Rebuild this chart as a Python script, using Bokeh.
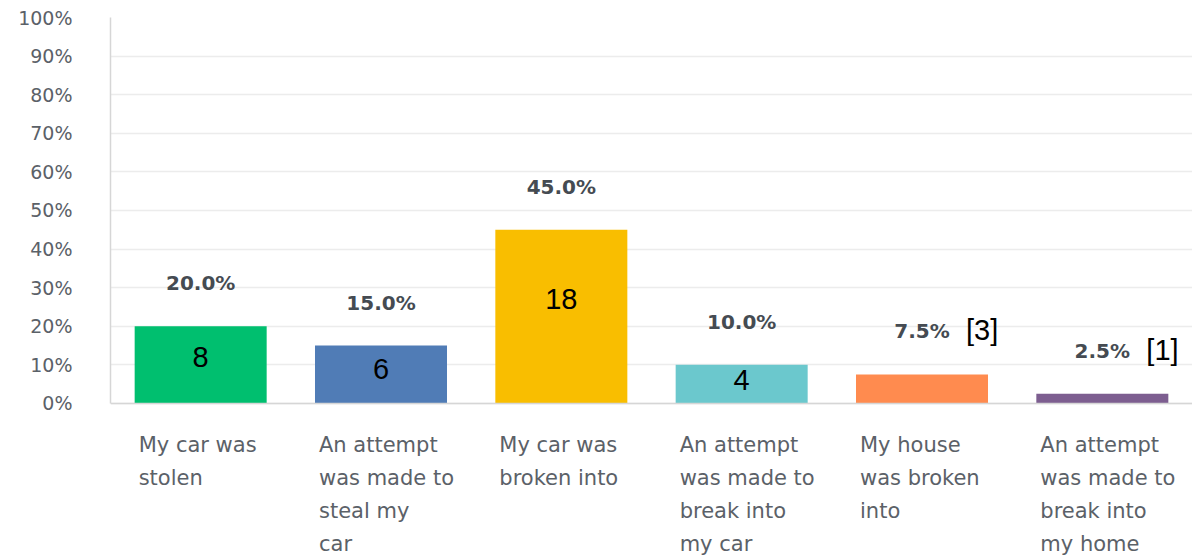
from bokeh.plotting import figure
from bokeh.models import ColumnDataSource, LabelSet, FixedTicker, PrintfTickFormatter, Span
from bokeh.core.properties import value
from bokeh.embed import file_html
from bokeh.resources import INLINE

categories = ["My car was stolen", "An attempt was made to steal my car", "My car was broken into",
              "An attempt was made to break into my car", "My house was broken into",
              "An attempt was made to break into my home"]
wrapped_labels = [["My car was", "stolen"],
                  ["An attempt", "was made to", "steal my", "car"],
                  ["My car was", "broken into"],
                  ["An attempt", "was made to", "break into", "my car"],
                  ["My house", "was broken", "into"],
                  ["An attempt", "was made to", "break into", "my home"]]
percents = [20.0, 15.0, 45.0, 10.0, 7.5, 2.5]
counts = [8, 6, 18, 4, 3, 1]
colors = ["#00bf6f", "#507cb6", "#f9be00", "#6bc8cd", "#ff8b4f", "#7d5e90"]
y_ticks = [0, 10, 20, 30, 40, 50, 60, 70, 80, 90, 100]

inner_idx = [0, 1, 2, 3]
outer_idx = [4, 5]

LINE_STEP = 33
FIRST_LINE = 42

src = ColumnDataSource(dict(
    cat=categories, pct=percents, color=colors,
    pct_text=["%.1f%%" % v for v in percents],
))
line_cat, line_txt, line_off, line_zero = [], [], [], []
for c, lines in zip(categories, wrapped_labels):
    for i, t in enumerate(lines):
        line_cat.append(c)
        line_txt.append(t)
        line_off.append(-(FIRST_LINE + LINE_STEP * i))
        line_zero.append(0)
lab_src = ColumnDataSource(dict(cat=line_cat, txt=line_txt, off=line_off, zero=line_zero))

inner_src = ColumnDataSource(dict(
    cat=[categories[i] for i in inner_idx],
    mid=[percents[i] * 0.6 for i in inner_idx],
    txt=[str(counts[i]) for i in inner_idx],
))
outer_src = ColumnDataSource(dict(
    cat=[categories[i] for i in outer_idx],
    pct=[percents[i] for i in outer_idx],
    txt=["[%d]" % counts[i] for i in outer_idx],
))

# frame extends below 0 so the wrapped category labels can be drawn inside it
p = figure(x_range=categories, y_range=(-39.4, 100), width=1192, height=555,
           output_backend="svg", toolbar_location=None,
           min_border_left=110, min_border_right=0, min_border_top=17, min_border_bottom=0)
p.outline_line_color = None
p.background_fill_color = "white"
p.xaxis.visible = False

p.vbar(x="cat", top="pct", width=0.732, color="color", source=src, line_color=None)

# y axis
p.yaxis.ticker = FixedTicker(ticks=y_ticks)
p.yaxis.bounds = (0, 100)
p.yaxis.formatter = PrintfTickFormatter(format="%d%%")
p.yaxis.major_tick_line_color = None
p.yaxis.minor_tick_line_color = None
p.yaxis.axis_line_color = "#d6d6d6"
p.yaxis.axis_line_width = 1.5
p.yaxis.major_label_text_font = "DejaVu Sans"
p.yaxis.major_label_text_font_size = "19px"
p.yaxis.major_label_text_color = "#5b6168"
p.yaxis.major_label_standoff = 32

p.xgrid.grid_line_color = None
p.ygrid.grid_line_color = "#ececec"
p.ygrid.grid_line_width = 1.5

# baseline (x axis line)
p.add_layout(Span(location=0, dimension="width", line_color="#d6d6d6", line_width=1.5))

# category labels below axis (one row per line)
p.add_layout(LabelSet(x="cat", y="zero", text="txt", source=lab_src,
                      x_offset=-62, y_offset="off",
                      text_align="left", text_baseline="middle",
                      text_font=value("DejaVu Sans"), text_font_size=value("21px"),
                      text_color="#5b6168"))

# percentage labels above bars
p.add_layout(LabelSet(x="cat", y="pct", text="pct_text", source=src,
                      y_offset=43, text_align="center", text_baseline="middle",
                      text_font=value("DejaVu Sans"), text_font_style="bold",
                      text_font_size=value("20px"), text_color="#454b52"))

# counts inside bars
p.add_layout(LabelSet(x="cat", y="mid", text="txt", source=inner_src,
                      text_align="center", text_baseline="middle",
                      text_font=value("Liberation Sans"), text_font_size=value("29px"),
                      text_color="black"))

# bracketed counts
p.add_layout(LabelSet(x="cat", y="pct", text="txt", source=outer_src,
                      x_offset=44, y_offset=44, text_align="left", text_baseline="middle",
                      text_font=value("Liberation Sans"), text_font_size=value("29px"),
                      text_color="black"))

open("out.html", "w").write(file_html(p, INLINE))
